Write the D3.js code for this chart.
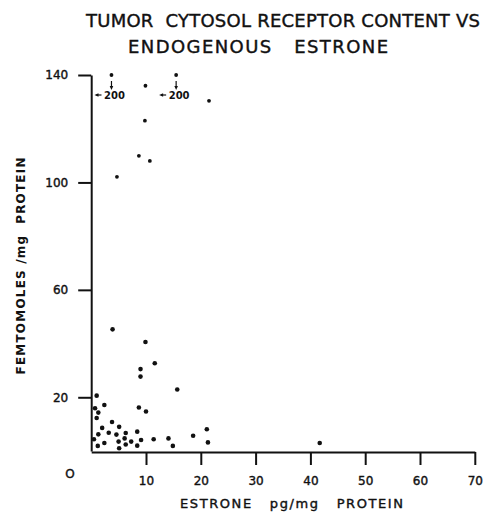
<!DOCTYPE html>
<html>
<head>
<meta charset="utf-8">
<script src="https://cdn.jsdelivr.net/npm/d3@7"></script>
<style>
    body { margin: 0; background: #fff; }
    svg { display: block; }
    text { font-family: "DejaVu Sans", sans-serif; fill: #111; white-space: pre; }
    .heavy { stroke: #111; stroke-width: 0.4px; }
</style>
</head>
<body>
<svg class="chart"></svg>
<script>
// estrone pg/mg protein (x) vs receptor femtomoles/mg protein (y)
const estrone = [3.7, 9.9, 15.5, 21.5, 9.8, 8.7, 10.7, 4.7, 3.9, 9.9, 11.6, 9.0, 9.0, 15.7,
    1.0, 2.4, 0.7, 1.3, 1.0, 8.7, 10.0, 3.8, 2.0, 5.1, 3.2, 1.3, 8.4, 0.5, 4.6, 6.3, 6.1,
    5.0, 7.3, 9.1, 11.4, 1.2, 2.4, 5.1, 6.3, 8.4, 14.1, 14.9, 18.6, 21.1, 21.3, 41.7];
const receptor = [200, 136, 200, 130.4, 123, 109.9, 108, 102.1, 45.3, 40.6, 32.7, 30.5, 27.7, 22.9,
    20.6, 17.1, 15.9, 14.3, 12.3, 16.2, 14.7, 10.8, 8.6, 9.0, 6.8, 6.2, 7.2, 4.4, 6.1, 6.7, 4.7,
    3.5, 3.5, 4.1, 4.4, 1.9, 3.0, 1.0, 2.4, 2.0, 4.7, 1.9, 5.7, 8.1, 3.2, 3.0];
const xTickValues = [10, 20, 30, 40, 50, 60, 70];
const yTickValues = [20, 60, 100, 140];
const titleLines = [`TUMOR  CYTOSOL RECEPTOR CONTENT VS`, `ENDOGENOUS   ESTRONE`];
const xTitle = `ESTRONE   pg/mg   PROTEIN`;
const yTitle = `FEMTOMOLES /mg  PROTEIN`;

const width = 492;
const height = 520;
const yMax = 140;

const data = estrone.map((e, i) => ({ x: e, y: receptor[i] }));

const x = d3.scaleLinear()
    .domain([0, 70])
    .range([91.2, 474.8]);

const y = d3.scaleLinear()
    .domain([0, yMax])
    .range([451, 75]);

const chart = d3.select(`.chart`)
    .attr(`width`, width)
    .attr(`height`, height);

// title
chart.append(`text`)
    .attr(`class`, `heavy`)
    .attr(`x`, 86).attr(`y`, 27)
    .attr(`font-size`, 18)
    .attr(`textLength`, 394)
    .attr(`lengthAdjust`, `spacing`)
    .text(titleLines[0]);
chart.append(`text`)
    .attr(`class`, `heavy`)
    .attr(`x`, 128).attr(`y`, 53)
    .attr(`font-size`, 18)
    .attr(`textLength`, 260)
    .attr(`lengthAdjust`, `spacing`)
    .text(titleLines[1]);

const xAxis = d3.axisBottom(x)
    .tickValues(xTickValues)
    .tickSize(13)
    .tickSizeOuter(0)
    .tickPadding(11)
    .tickFormat(d3.format(`d`));

const yAxis = d3.axisLeft(y)
    .tickValues(yTickValues)
    .tickSize(13)
    .tickSizeOuter(0)
    .tickPadding(10)
    .tickFormat(d3.format(`d`));

const xTicks = chart.append(`g`)
    .attr(`transform`, `translate(0, ${y(0) + 1})`)
    .call(xAxis);

const yTicks = chart.append(`g`)
    .attr(`transform`, `translate(${x(0)}, 0)`)
    .call(yAxis);

[xTicks, yTicks].forEach(g => {
    g.select(`.domain`).attr(`stroke`, `#111`).attr(`stroke-width`, 2);
    g.selectAll(`.tick line`).attr(`stroke`, `#111`).attr(`stroke-width`, 2);
    g.selectAll(`.tick text`)
        .attr(`class`, `heavy`)
        .attr(`font-family`, `"DejaVu Sans", sans-serif`)
        .attr(`font-size`, 12)
        .attr(`fill`, `#111`);
});

// origin label
chart.append(`text`)
    .attr(`class`, `heavy`)
    .attr(`x`, 70).attr(`y`, 478)
    .attr(`text-anchor`, `middle`)
    .attr(`font-size`, 12)
    .text(`O`);

// axis titles
chart.append(`text`)
    .attr(`class`, `heavy`)
    .attr(`x`, 180).attr(`y`, 508)
    .attr(`font-size`, 13)
    .attr(`textLength`, 223)
    .attr(`lengthAdjust`, `spacing`)
    .text(xTitle);

chart.append(`text`)
    .attr(`transform`, `translate(25, 266) rotate(-90)`)
    .attr(`text-anchor`, `middle`)
    .attr(`font-size`, 12)
    .attr(`font-weight`, `bold`)
    .attr(`textLength`, 217)
    .attr(`lengthAdjust`, `spacing`)
    .text(yTitle);

// points, off-scale ones pinned to the top
chart.append(`g`)
    .selectAll(`circle`)
    .data(data)
    .enter().append(`circle`)
        .attr(`cx`, d => x(d.x))
        .attr(`cy`, d => y(Math.min(d.y, yMax)))
        .attr(`r`, d => d.y > 60 ? 1.9 : 2.3)
        .attr(`fill`, `#111`);

// off-scale annotations
const offScale = data.filter(d => d.y > yMax);
const notes = chart.append(`g`)
    .selectAll(`g`)
    .data(offScale)
    .enter().append(`g`)
        .attr(`transform`, d => `translate(${x(d.x)}, ${y(yMax)})`);

notes.append(`line`)
    .attr(`x1`, 0).attr(`x2`, 0)
    .attr(`y1`, 6).attr(`y2`, 13)
    .attr(`stroke`, `#111`).attr(`stroke-width`, 1.2);
notes.append(`path`)
    .attr(`d`, `M-1.8,11 L1.8,11 L0,15 Z`)
    .attr(`fill`, `#111`);
notes.append(`line`)
    .attr(`x1`, -10).attr(`x2`, -15)
    .attr(`y1`, 20).attr(`y2`, 20)
    .attr(`stroke`, `#111`).attr(`stroke-width`, 1.2);
notes.append(`path`)
    .attr(`d`, `M-13,18.3 L-13,21.7 L-17,20 Z`)
    .attr(`fill`, `#111`);
notes.append(`text`)
    .attr(`x`, 3).attr(`y`, 24)
    .attr(`text-anchor`, `middle`)
    .attr(`font-size`, 10)
    .attr(`font-weight`, `bold`)
    .text(d => d3.format(`d`)(d.y));
</script>
</body>
</html>
